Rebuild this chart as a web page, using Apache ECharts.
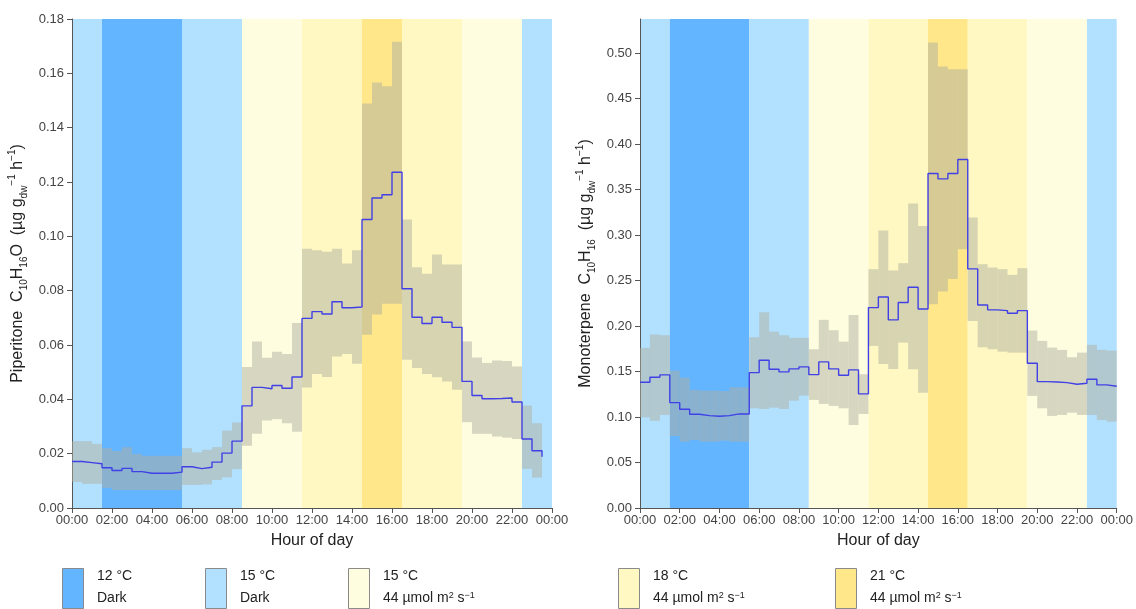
<!DOCTYPE html>
<html>
<head>
<meta charset="utf-8">
<script src="https://cdn.jsdelivr.net/npm/echarts@6/dist/echarts.min.js"></script>
<style>
html,body{margin:0;padding:0;background:#fff;}
#chart{width:1136px;height:609px;}
</style>
</head>
<body>
<div id="chart"></div>
<script>
// ---------- DATA ----------
const STEP_HOURS = 0.5; // each value holds for 30 minutes, starting at 00:00

const xTickLabels = ['00:00','02:00','04:00','06:00','08:00','10:00','12:00','14:00','16:00','18:00','20:00','22:00','00:00'];

// Condition bands (hours of day)
const bandStart = [0, 1.5, 5.5, 8.5, 11.5, 14.5, 16.5, 19.5, 22.5];
const bandEnd   = [1.5, 5.5, 8.5, 11.5, 14.5, 16.5, 19.5, 22.5, 24];
const bandCondition = ['c15dark','c12dark','c15dark','c15light','c18light','c21light','c18light','c15light','c15dark'];

// Piperitone (left panel)
const pipMean = [0.0171,0.0167,0.0163,0.0148,0.0138,0.0146,0.0134,0.0128,0.0128,0.0128,0.0132,
  0.0152,0.0145,0.0150,0.0169,0.0202,0.0246,
  0.0376,0.0444,0.0439,0.0451,0.0441,0.0482,
  0.0698,0.0723,0.0714,0.0759,0.0737,0.0740,
  0.1062,0.1141,0.1153,0.1236,
  0.0807,0.0702,0.0679,0.0702,0.0684,0.0665,
  0.0466,0.0414,0.0402,0.0403,0.0405,0.0390,0.0254,0.0211,0.0189];
const pipUpper = [0.0246,0.0246,0.0236,0.0220,0.0210,0.0224,0.0199,0.0192,0.0192,0.0192,0.0192,
  0.0220,0.0205,0.0214,0.0224,0.0285,0.0315,
  0.0519,0.0613,0.0553,0.0575,0.0567,0.0681,
  0.0954,0.0949,0.0943,0.0954,0.0900,0.0949,
  0.1489,0.1566,0.1552,0.1716,
  0.1062,0.0886,0.0862,0.0933,0.0896,0.0896,
  0.0613,0.0554,0.0534,0.0543,0.0541,0.0521,0.0377,0.0312];
const pipLower = [0.0096,0.0089,0.0089,0.0074,0.0066,0.0066,0.0066,0.0066,0.0066,0.0066,0.0066,
  0.0085,0.0085,0.0087,0.0103,0.0113,0.0143,
  0.0229,0.0273,0.0322,0.0327,0.0312,0.0281,
  0.0444,0.0493,0.0482,0.0558,0.0567,0.0531,
  0.0638,0.0712,0.0752,0.0752,
  0.0546,0.0515,0.0493,0.0481,0.0466,0.0435,
  0.0316,0.0273,0.0273,0.0263,0.0259,0.0254,0.0144,0.0112];

// Monoterpene (right panel)
const monoMean = [0.1382,0.1437,0.1463,0.1158,0.1085,0.1030,0.1015,0.1008,0.1015,0.1034,0.1034,
  0.1488,0.1624,0.1525,0.1496,0.1529,0.1551,
  0.1466,0.1606,0.1529,0.1459,0.1518,0.1254,
  0.2203,0.2320,0.2068,0.2258,0.2427,0.2188,
  0.3677,0.3618,0.3677,0.3831,
  0.2628,0.2232,0.2178,0.2170,0.2141,0.2170,
  0.1591,0.1389,0.1385,0.1378,0.1360,0.1371,0.1415,0.1353,0.1338];
const monoUpper = [0.1760,0.1906,0.1899,0.1510,0.1433,0.1298,0.1290,0.1290,0.1285,0.1327,0.1327,
  0.1877,0.2152,0.1939,0.1899,0.1870,0.1870,
  0.1745,0.2068,0.1954,0.1829,0.2122,0.1470,
  0.2625,0.3050,0.2610,0.2691,0.3347,0.3101,
  0.5117,0.4853,0.4824,0.4824,
  0.3193,0.2680,0.2643,0.2625,0.2562,0.2636,
  0.1950,0.1837,0.1763,0.1738,0.1657,0.1708,0.1793,0.1738,0.1730];
const monoLower = [0.0997,0.0960,0.1023,0.0792,0.0729,0.0748,0.0729,0.0729,0.0740,0.0729,0.0729,
  0.1096,0.1089,0.1103,0.1089,0.1180,0.1235,
  0.1188,0.1144,0.1122,0.1096,0.0913,0.1034,
  0.1782,0.1584,0.1529,0.1818,0.1525,0.1268,
  0.2240,0.2379,0.2518,0.2845,
  0.2056,0.1767,0.1745,0.1719,0.1708,0.1708,
  0.1232,0.1096,0.1012,0.1023,0.1048,0.1023,0.1023,0.0968,0.0949];

const pipYMax = 0.18, pipYInterval = 0.02;
const monoYMax = 0.5375, monoYInterval = 0.05;

// Legend entries
const legendItems = [
  {cond:'c12dark',  line1:'12 °C', line2:'Dark'},
  {cond:'c15dark',  line1:'15 °C', line2:'Dark'},
  {cond:'c15light', line1:'15 °C', line2:'light'},
  {cond:'c18light', line1:'18 °C', line2:'light'},
  {cond:'c21light', line1:'21 °C', line2:'light'}
];

// ---------- STYLE ----------
const FONT = '"Liberation Sans", Arial, Helvetica, sans-serif';
const condColor = {
  c12dark:'#64B5FF', c15dark:'#B2E0FF', c15light:'#FFFDE0', c18light:'#FFF8C2', c21light:'#FFE78A'
};
const ribbonColor = 'rgba(176,175,160,0.5)';
const lineColor = '#4040e6';
const axisColor = '#555';
const labelColor = '#444';

function stepData(values, close) {
  const d = values.map((v, i) => [i * STEP_HOURS, v]);
  if (close) d.push([values.length * STEP_HOURS, values[values.length - 1]]); // close final step
  return d;
}
function ribbonData(upper, lower) {
  return upper.map((u, i) => [i * STEP_HOURS, (i + 1) * STEP_HOURS, lower[i], u]);
}

function bandsMarkArea() {
  return {
    silent: true,
    z: 0,
    label: {show: false},
    data: bandStart.map((s, i) => [
      {xAxis: s, itemStyle: {color: condColor[bandCondition[i]], opacity: 1, borderWidth: 0}},
      {xAxis: bandEnd[i]}
    ])
  };
}

function makeX(gi) {
  return {
    type: 'value', gridIndex: gi, min: 0, max: 24, interval: 2,
    name: 'Hour of day', nameLocation: 'middle', nameGap: 25,
    nameTextStyle: {fontSize: 16, color: '#222', fontFamily: FONT},
    axisLine: {show: true, onZero: false, lineStyle: {color: axisColor, width: 1}},
    axisTick: {show: true, inside: false, length: 5, lineStyle: {color: axisColor}},
    axisLabel: {margin: 6, fontSize: 13, color: labelColor, fontFamily: FONT,
      formatter: v => xTickLabels[Math.round(v / 2)]},
    splitLine: {show: false}
  };
}

const nameRich = {
  a:   {fontSize: 16, color: '#222', fontFamily: FONT, lineHeight: 22},
  sub: {fontSize: 10, color: '#222', fontFamily: FONT, lineHeight: 10, verticalAlign: 'bottom'},
  sup: {fontSize: 10, color: '#222', fontFamily: FONT, lineHeight: 10, verticalAlign: 'top'}
};

function makeY(gi, max, interval, name) {
  return {
    type: 'value', gridIndex: gi, min: 0, max: max, interval: interval,
    name: name, nameLocation: 'middle', nameGap: 43, nameRotate: 90,
    nameTextStyle: {rich: nameRich},
    axisLine: {show: true, lineStyle: {color: axisColor, width: 1}},
    axisTick: {show: true, inside: false, length: 5, lineStyle: {color: axisColor}},
    axisLabel: {margin: 8, fontSize: 13, color: labelColor, fontFamily: FONT,
      showMaxLabel: Math.abs(max / interval - Math.round(max / interval)) < 1e-6,
      formatter: v => v.toFixed(2)},
    splitLine: {show: false}
  };
}

function renderRibbon(params, api) {
  const p1 = api.coord([api.value(0), api.value(3)]);
  const p2 = api.coord([api.value(1), api.value(2)]);
  return {
    type: 'rect',
    shape: {x: p1[0], y: p1[1], width: p2[0] - p1[0], height: p2[1] - p1[1]},
    style: {fill: ribbonColor}
  };
}

function panelSeries(gi, mean, upper, lower, closeLine, prefix) {
  return [
    { name: prefix + 'range', type: 'custom', xAxisIndex: gi, yAxisIndex: gi,
      renderItem: renderRibbon, silent: true, clip: true,
      encode: {x: [0, 1], y: [2, 3]},
      data: ribbonData(upper, lower), z: 2 },
    { name: prefix + 'mean', type: 'line', xAxisIndex: gi, yAxisIndex: gi,
      step: 'end', symbol: 'none', showSymbol: false, silent: true,
      lineStyle: {color: lineColor, width: 1.4}, data: stepData(mean, closeLine), z: 3,
      markArea: bandsMarkArea() }
  ];
}

// Legend graphics
const legendX = [62, 205, 348, 618, 835];
const legendRich = {
  a: {fontSize: 14, fill: '#222', fontFamily: FONT},
  s: {fontSize: 9, fill: '#222', fontFamily: FONT, verticalAlign: 'top', lineHeight: 9}
};
const graphics = [];
legendItems.forEach((it, i) => {
  const x = legendX[i];
  graphics.push({type: 'rect', left: x, top: 568, shape: {width: 21, height: 40},
    style: {fill: condColor[it.cond], stroke: '#8a8a8a', lineWidth: 1}, silent: true});
  graphics.push({type: 'text', left: x + 35, top: 569,
    style: {text: '{a|' + it.line1 + '}', rich: legendRich, fill: '#222'}, silent: true});
  const t2 = it.line2 === 'Dark' ? '{a|Dark}' : '{a|44 µmol m}{s|2}{a| s}{s|−1}';
  graphics.push({type: 'text', left: x + 35, top: 591,
    style: {text: t2, rich: legendRich, fill: '#222'}, silent: true});
});

const pipName = '{a|Piperitone  C}{sub|10}{a|H}{sub|16}{a|O  (µg g}{sub|dw}{sup|−1}{a| h}{sup|−1}{a|)}';
const monoName = '{a|Monoterpene  C}{sub|10}{a|H}{sub|16}{a|  (µg g}{sub|dw}{sup|−1}{a| h}{sup|−1}{a|)}';

const option = {
  animation: false,
  textStyle: {fontFamily: FONT},
  grid: [
    {left: 72, top: 19, width: 480, height: 489},
    {left: 640, top: 19, width: 480, height: 489}
  ],
  xAxis: [makeX(0), makeX(1)],
  yAxis: [makeY(0, pipYMax, pipYInterval, pipName), makeY(1, monoYMax, monoYInterval, monoName)],
  series: [].concat(
    panelSeries(0, pipMean, pipUpper, pipLower, false, 'pip'),
    panelSeries(1, monoMean, monoUpper, monoLower, true, 'mono')
  ),
  graphic: graphics
};

const chart = echarts.init(document.getElementById('chart'), null, {renderer: 'canvas'});
chart.setOption(option);
</script>
</body>
</html>
